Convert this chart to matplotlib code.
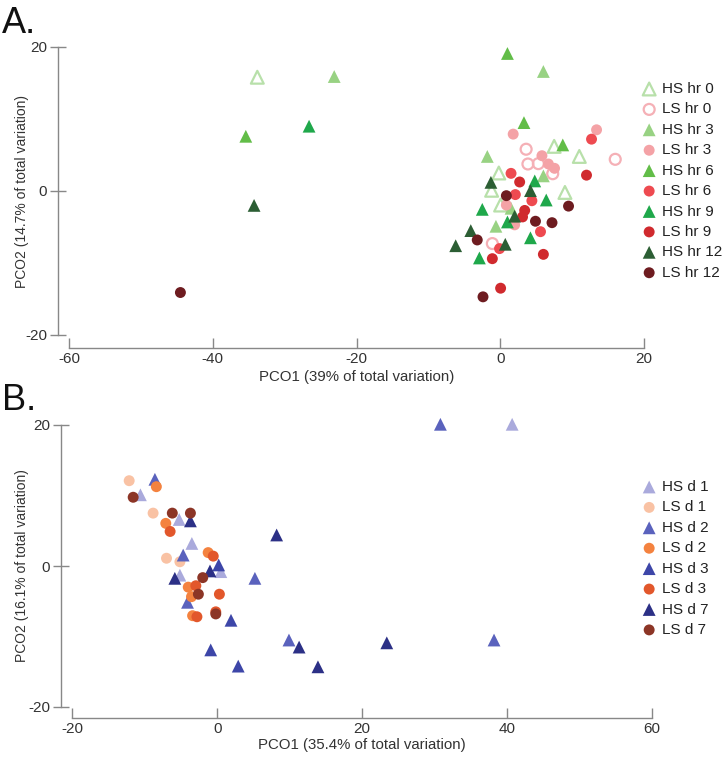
import matplotlib
matplotlib.use("Agg")
import matplotlib.pyplot as plt

plt.rcParams['font.family'] = ['Liberation Sans', 'DejaVu Sans']

# ---------------- Panel A data ----------------
a_labels = ["HS hr 0", "LS hr 0", "HS hr 3", "LS hr 3", "HS hr 6",
            "LS hr 6", "HS hr 9", "LS hr 9", "HS hr 12", "LS hr 12"]
a_x = [
    [-33.8, 7.5, 11.0, -0.2, -1.2, 9.0, 0.05],
    [3.6, 16.0, 3.85, 5.3, 7.3, -1.1],
    [-23.1, 6.0, -1.8, 6.0, 1.5, -0.6],
    [1.8, 13.4, 5.8, 6.7, 7.55, 0.85, 2.0],
    [1.0, -35.4, 3.3, 8.7],
    [12.7, 1.5, 2.1, 4.4, 5.6, -0.1],
    [-26.6, 4.8, 6.4, -2.5, 1.0, 4.2, -2.9],
    [12.0, 2.7, 3.4, 3.1, -1.1, 6.0, 0.05],
    [-34.25, -1.3, 4.2, 2.0, -4.1, -6.2, 0.7],
    [-44.5, 0.85, 9.5, 4.9, 7.2, -3.2, -2.4],
]
a_y = [
    [15.8, 6.2, 4.8, 2.5, 0.1, -0.2, -1.95],
    [5.8, 4.4, 3.75, 3.8, 2.4, -7.3],
    [15.9, 16.6, 4.8, 2.1, -2.4, -4.9],
    [7.9, 8.5, 4.9, 3.75, 3.15, -1.95, -4.7],
    [19.1, 7.6, 9.5, 6.4],
    [7.2, 2.45, -0.5, -1.35, -5.65, -8.0],
    [9.0, 1.4, -1.25, -2.55, -4.3, -6.5, -9.3],
    [2.2, 1.25, -2.7, -3.6, -9.4, -8.8, -13.5],
    [-2.0, 1.2, 0.05, -3.5, -5.5, -7.6, -7.4],
    [-14.1, -0.65, -2.1, -4.2, -4.4, -6.8, -14.7],
]
a_colors = ["#b8e0aa", "#f5b0b6", "#98d283", "#f4a2a6", "#62bd48",
            "#ee4a50", "#1fa84b", "#d02a2e", "#2c5e34", "#6e1c20"]
a_markers = ["^", "o", "^", "o", "^", "o", "^", "o", "^", "o"]
a_open = [True, True] + [False] * 8

# ---------------- Panel B data ----------------
b_labels = ["HS d 1", "LS d 1", "HS d 2", "LS d 2", "HS d 3", "LS d 3", "HS d 7", "LS d 7"]
b_x = [
    [40.7, -10.6, -5.25, -3.5, 0.5, -5.15],
    [-12.15, -8.85, -7.0, -5.15],
    [30.8, -8.6, -4.7, 5.2, -4.1, 9.9, 38.2],
    [-8.4, -7.1, -1.25, -4.0, -3.55, -3.4],
    [0.2, 1.9, -0.9, 2.9],
    [-6.5, -0.55, -2.95, -2.8, 0.3, -0.2],
    [8.2, -3.7, -1.0, -5.85, 11.3, 13.9, 23.4],
    [-11.6, -6.2, -3.7, -2.0, -0.2, -2.6],
]
b_y = [
    [20.1, 10.1, 6.6, 3.2, -0.8, -1.3],
    [12.1, 7.5, 1.1, 0.6],
    [20.1, 12.3, 1.55, -1.75, -5.15, -10.5, -10.5],
    [11.25, 6.05, 1.9, -3.0, -4.35, -7.05],
    [0.15, -7.7, -11.9, -14.2],
    [4.9, 1.4, -2.8, -7.2, -4.0, -6.5],
    [4.4, 6.4, -0.7, -1.75, -11.5, -14.3, -10.9],
    [9.75, 7.5, 7.5, -1.65, -6.8, -4.0],
]
b_colors = ["#aaaadc", "#f9c2a4", "#5a62bd", "#f4823f", "#3d46a8", "#e2572b", "#2c3086", "#8c3526"]
b_markers = ["^", "o"] * 4

W, H = 725, 761
fig = plt.figure(figsize=(W / 100, H / 100), dpi=100)

def fx(px):
    return px / W

def fy(py):
    return 1 - py / H

PT = 0.72  # points per pixel at dpi 100

axA = fig.add_axes([fx(69), fy(335), fx(644) - fx(69), fy(47) - fy(335)])
axB = fig.add_axes([fx(72.3), fy(707), fx(652) - fx(72.3), fy(425) - fy(707)])

def style(ax, xlim, ylim, xticks, yticks, xoff, yoff):
    ax.set_xlim(*xlim)
    ax.set_ylim(*ylim)
    ax.set_xticks(xticks)
    ax.set_yticks(yticks)
    ax.set_xticklabels([str(t) for t in xticks])
    ax.set_yticklabels([str(t) for t in yticks])
    for s in ["top", "right"]:
        ax.spines[s].set_visible(False)
    ax.spines["left"].set_position(("outward", yoff * PT))
    ax.spines["bottom"].set_position(("outward", xoff * PT))
    for s in ["left", "bottom"]:
        ax.spines[s].set_color("#888888")
        ax.spines[s].set_linewidth(1.0)
    ax.tick_params(axis="y", direction="inout", length=12, width=1.0, color="#888888",
                   labelsize=11, labelcolor="#333333", pad=2)
    ax.tick_params(axis="x", direction="in", length=7, width=1.0, color="#888888",
                   labelsize=11, labelcolor="#333333", pad=3)
    ax.patch.set_alpha(0)

style(axA, (-60, 20), (-20, 20), [-60, -40, -20, 0, 20], [-20, 0, 20], 13, 11)
style(axB, (-20, 60), (-20, 20), [-20, 0, 20, 40, 60], [-20, 0, 20], 11, 11)

fig.text(fx(357), fy(377), "PCO1 (39% of total variation)", fontsize=10.8,
         color="#333333", ha="center", va="center")
fig.text(fx(362), fy(745), "PCO1 (35.4% of total variation)", fontsize=10.8,
         color="#333333", ha="center", va="center")
fig.text(fx(22), fy(192), "PCO2 (14.7% of total variation)", fontsize=10,
         color="#333333", ha="center", va="center", rotation=90)
fig.text(fx(22), fy(566), "PCO2 (16.1% of total variation)", fontsize=10,
         color="#333333", ha="center", va="center", rotation=90)

for lab, xs, ys, c, m, op in zip(a_labels, a_x, a_y, a_colors, a_markers, a_open):
    s = 85 if m == "^" else 62
    if op:
        axA.scatter(xs, ys, s=s, marker=m, facecolors="none", edgecolors=c,
                    linewidths=1.6, label=lab, clip_on=False, zorder=3)
    else:
        axA.scatter(xs, ys, s=s, marker=m, color=c, edgecolors="none",
                    label=lab, clip_on=False, zorder=3)

for lab, xs, ys, c, m in zip(b_labels, b_x, b_y, b_colors, b_markers):
    s = 85 if m == "^" else 62
    axB.scatter(xs, ys, s=s, marker=m, color=c, edgecolors="none",
                label=lab, clip_on=False, zorder=3)

legA = axA.legend(loc="upper left", bbox_to_anchor=(fx(640), fy(82)),
                  bbox_transform=fig.transFigure, frameon=False, fontsize=11,
                  handletextpad=0.25, labelspacing=0.42, borderpad=0, borderaxespad=0,
                  handlelength=1.2, scatterpoints=1, labelcolor="#222222")
legB = axB.legend(loc="upper left", bbox_to_anchor=(fx(640), fy(480)),
                  bbox_transform=fig.transFigure, frameon=False, fontsize=11,
                  handletextpad=0.25, labelspacing=0.42, borderpad=0, borderaxespad=0,
                  handlelength=1.2, scatterpoints=1, labelcolor="#222222")

fig.text(fx(2), fy(33), "A.", fontsize=26, color="#111111", ha="left", va="baseline")
fig.text(fx(2), fy(410), "B.", fontsize=26, color="#111111", ha="left", va="baseline")

fig.savefig("out.png", dpi=100)
